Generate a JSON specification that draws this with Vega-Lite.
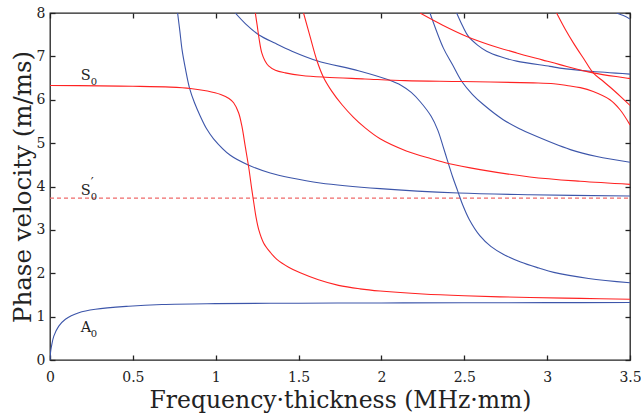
{
  "$schema": "https://vega.github.io/schema/vega-lite/v6.json",
  "width": 580,
  "height": 347,
  "autosize": {"type": "none"},
  "padding": {"left": 50, "top": 13, "right": 11, "bottom": 59},
  "background": "white",
  "config": {
    "view": {"stroke": "#222", "strokeWidth": 1.3},
    "font": "DejaVu Serif",
    "style": {
      "guide-label": {"font": "DejaVu Serif", "fontSize": 14, "fill": "#222"},
      "guide-title": {"font": "DejaVu Serif", "fontSize": 23, "fill": "#222", "fontWeight": "normal"}
    },
    "axis": {
      "grid": false,
      "domain": false,
      "tickColor": "#222",
      "tickWidth": 1.3,
      "tickSize": -5,
      "labelFont": "DejaVu Serif",
      "labelFontSize": 14,
      "labelColor": "#222",
      "labelOverlap": false,
      "labelFlush": false,
      "titleFont": "DejaVu Serif",
      "titleFontWeight": "normal",
      "titleFontSize": 23,
      "titleColor": "#222"
    }
  },
  "datasets": {
    "curves": [
      {"c": "A0", "t": "A", "x": 0, "y": 0},
      {"c": "A0", "t": "A", "x": 0.003, "y": 0.17},
      {"c": "A0", "t": "A", "x": 0.009, "y": 0.32},
      {"c": "A0", "t": "A", "x": 0.023, "y": 0.55},
      {"c": "A0", "t": "A", "x": 0.053, "y": 0.78},
      {"c": "A0", "t": "A", "x": 0.093, "y": 0.94},
      {"c": "A0", "t": "A", "x": 0.174, "y": 1.09},
      {"c": "A0", "t": "A", "x": 0.274, "y": 1.17},
      {"c": "A0", "t": "A", "x": 0.475, "y": 1.24},
      {"c": "A0", "t": "A", "x": 0.676, "y": 1.28},
      {"c": "A0", "t": "A", "x": 1.0, "y": 1.3},
      {"c": "A0", "t": "A", "x": 1.5, "y": 1.31},
      {"c": "A0", "t": "A", "x": 2.0, "y": 1.315},
      {"c": "A0", "t": "A", "x": 2.5, "y": 1.32},
      {"c": "A0", "t": "A", "x": 3.0, "y": 1.322},
      {"c": "A0", "t": "A", "x": 3.5, "y": 1.325},

      {"c": "A1", "t": "A", "x": 0.77, "y": 8},
      {"c": "A1", "t": "A", "x": 0.784, "y": 7.57},
      {"c": "A1", "t": "A", "x": 0.797, "y": 7.15},
      {"c": "A1", "t": "A", "x": 0.818, "y": 6.7},
      {"c": "A1", "t": "A", "x": 0.842, "y": 6.27},
      {"c": "A1", "t": "A", "x": 0.872, "y": 5.93},
      {"c": "A1", "t": "A", "x": 0.907, "y": 5.62},
      {"c": "A1", "t": "A", "x": 0.945, "y": 5.33},
      {"c": "A1", "t": "A", "x": 0.987, "y": 5.1},
      {"c": "A1", "t": "A", "x": 1.088, "y": 4.72},
      {"c": "A1", "t": "A", "x": 1.2, "y": 4.49},
      {"c": "A1", "t": "A", "x": 1.329, "y": 4.31},
      {"c": "A1", "t": "A", "x": 1.45, "y": 4.2},
      {"c": "A1", "t": "A", "x": 1.63, "y": 4.08},
      {"c": "A1", "t": "A", "x": 1.992, "y": 3.95},
      {"c": "A1", "t": "A", "x": 2.464, "y": 3.85},
      {"c": "A1", "t": "A", "x": 2.896, "y": 3.81},
      {"c": "A1", "t": "A", "x": 3.5, "y": 3.78},

      {"c": "A2", "t": "A", "x": 1.118, "y": 8},
      {"c": "A2", "t": "A", "x": 1.18, "y": 7.75},
      {"c": "A2", "t": "A", "x": 1.259, "y": 7.5},
      {"c": "A2", "t": "A", "x": 1.36, "y": 7.3},
      {"c": "A2", "t": "A", "x": 1.46, "y": 7.12},
      {"c": "A2", "t": "A", "x": 1.611, "y": 6.9},
      {"c": "A2", "t": "A", "x": 1.861, "y": 6.67},
      {"c": "A2", "t": "A", "x": 2.042, "y": 6.46},
      {"c": "A2", "t": "A", "x": 2.12, "y": 6.33},
      {"c": "A2", "t": "A", "x": 2.18, "y": 6.17},
      {"c": "A2", "t": "A", "x": 2.233, "y": 5.96},
      {"c": "A2", "t": "A", "x": 2.3, "y": 5.62},
      {"c": "A2", "t": "A", "x": 2.34, "y": 5.3},
      {"c": "A2", "t": "A", "x": 2.37, "y": 4.95},
      {"c": "A2", "t": "A", "x": 2.4, "y": 4.58},
      {"c": "A2", "t": "A", "x": 2.43, "y": 4.22},
      {"c": "A2", "t": "A", "x": 2.46, "y": 3.9},
      {"c": "A2", "t": "A", "x": 2.49, "y": 3.58},
      {"c": "A2", "t": "A", "x": 2.53, "y": 3.24},
      {"c": "A2", "t": "A", "x": 2.595, "y": 2.86},
      {"c": "A2", "t": "A", "x": 2.66, "y": 2.62},
      {"c": "A2", "t": "A", "x": 2.735, "y": 2.44},
      {"c": "A2", "t": "A", "x": 2.84, "y": 2.26},
      {"c": "A2", "t": "A", "x": 2.95, "y": 2.12},
      {"c": "A2", "t": "A", "x": 3.04, "y": 2.02},
      {"c": "A2", "t": "A", "x": 3.25, "y": 1.88},
      {"c": "A2", "t": "A", "x": 3.5, "y": 1.78},

      {"c": "A3", "t": "A", "x": 2.293, "y": 8},
      {"c": "A3", "t": "A", "x": 2.374, "y": 7.19},
      {"c": "A3", "t": "A", "x": 2.43, "y": 6.8},
      {"c": "A3", "t": "A", "x": 2.485, "y": 6.42},
      {"c": "A3", "t": "A", "x": 2.55, "y": 6.12},
      {"c": "A3", "t": "A", "x": 2.615, "y": 5.89},
      {"c": "A3", "t": "A", "x": 2.735, "y": 5.54},
      {"c": "A3", "t": "A", "x": 2.84, "y": 5.32},
      {"c": "A3", "t": "A", "x": 2.896, "y": 5.22},
      {"c": "A3", "t": "A", "x": 3.14, "y": 4.85},
      {"c": "A3", "t": "A", "x": 3.3, "y": 4.69},
      {"c": "A3", "t": "A", "x": 3.5, "y": 4.56},

      {"c": "A4", "t": "A", "x": 2.454, "y": 8},
      {"c": "A4", "t": "A", "x": 2.49, "y": 7.7},
      {"c": "A4", "t": "A", "x": 2.525, "y": 7.46},
      {"c": "A4", "t": "A", "x": 2.58, "y": 7.26},
      {"c": "A4", "t": "A", "x": 2.635, "y": 7.12},
      {"c": "A4", "t": "A", "x": 2.72, "y": 6.99},
      {"c": "A4", "t": "A", "x": 2.816, "y": 6.89},
      {"c": "A4", "t": "A", "x": 3.017, "y": 6.77},
      {"c": "A4", "t": "A", "x": 3.077, "y": 6.73},
      {"c": "A4", "t": "A", "x": 3.278, "y": 6.65},
      {"c": "A4", "t": "A", "x": 3.5, "y": 6.59},

      {"c": "A5", "t": "A", "x": 3.419, "y": 8},
      {"c": "A5", "t": "A", "x": 3.46, "y": 7.94},
      {"c": "A5", "t": "A", "x": 3.5, "y": 7.86},

      {"c": "S0", "t": "S", "x": 0, "y": 6.33},
      {"c": "S0", "t": "S", "x": 0.3, "y": 6.32},
      {"c": "S0", "t": "S", "x": 0.5, "y": 6.31},
      {"c": "S0", "t": "S", "x": 0.726, "y": 6.29},
      {"c": "S0", "t": "S", "x": 0.847, "y": 6.26},
      {"c": "S0", "t": "S", "x": 0.95, "y": 6.2},
      {"c": "S0", "t": "S", "x": 1.03, "y": 6.12},
      {"c": "S0", "t": "S", "x": 1.08, "y": 6.03},
      {"c": "S0", "t": "S", "x": 1.108, "y": 5.93},
      {"c": "S0", "t": "S", "x": 1.138, "y": 5.7},
      {"c": "S0", "t": "S", "x": 1.158, "y": 5.39},
      {"c": "S0", "t": "S", "x": 1.178, "y": 4.93},
      {"c": "S0", "t": "S", "x": 1.2, "y": 4.42},
      {"c": "S0", "t": "S", "x": 1.217, "y": 3.95},
      {"c": "S0", "t": "S", "x": 1.23, "y": 3.62},
      {"c": "S0", "t": "S", "x": 1.243, "y": 3.3},
      {"c": "S0", "t": "S", "x": 1.26, "y": 3.0},
      {"c": "S0", "t": "S", "x": 1.289, "y": 2.7},
      {"c": "S0", "t": "S", "x": 1.33, "y": 2.48},
      {"c": "S0", "t": "S", "x": 1.369, "y": 2.32},
      {"c": "S0", "t": "S", "x": 1.44, "y": 2.14},
      {"c": "S0", "t": "S", "x": 1.51, "y": 2.01},
      {"c": "S0", "t": "S", "x": 1.62, "y": 1.85},
      {"c": "S0", "t": "S", "x": 1.741, "y": 1.72},
      {"c": "S0", "t": "S", "x": 1.87, "y": 1.64},
      {"c": "S0", "t": "S", "x": 1.992, "y": 1.59},
      {"c": "S0", "t": "S", "x": 2.25, "y": 1.52},
      {"c": "S0", "t": "S", "x": 2.5, "y": 1.48},
      {"c": "S0", "t": "S", "x": 2.896, "y": 1.44},
      {"c": "S0", "t": "S", "x": 3.2, "y": 1.42},
      {"c": "S0", "t": "S", "x": 3.5, "y": 1.4},

      {"c": "S1", "t": "S", "x": 1.239, "y": 8},
      {"c": "S1", "t": "S", "x": 1.25, "y": 7.72},
      {"c": "S1", "t": "S", "x": 1.262, "y": 7.4},
      {"c": "S1", "t": "S", "x": 1.278, "y": 7.08},
      {"c": "S1", "t": "S", "x": 1.297, "y": 6.9},
      {"c": "S1", "t": "S", "x": 1.319, "y": 6.78},
      {"c": "S1", "t": "S", "x": 1.36, "y": 6.68},
      {"c": "S1", "t": "S", "x": 1.42, "y": 6.62},
      {"c": "S1", "t": "S", "x": 1.52, "y": 6.56},
      {"c": "S1", "t": "S", "x": 1.661, "y": 6.52},
      {"c": "S1", "t": "S", "x": 1.9, "y": 6.48},
      {"c": "S1", "t": "S", "x": 2.143, "y": 6.44},
      {"c": "S1", "t": "S", "x": 2.485, "y": 6.42},
      {"c": "S1", "t": "S", "x": 2.916, "y": 6.39},
      {"c": "S1", "t": "S", "x": 3.04, "y": 6.37},
      {"c": "S1", "t": "S", "x": 3.118, "y": 6.33},
      {"c": "S1", "t": "S", "x": 3.2, "y": 6.28},
      {"c": "S1", "t": "S", "x": 3.278, "y": 6.19},
      {"c": "S1", "t": "S", "x": 3.379, "y": 6.0},
      {"c": "S1", "t": "S", "x": 3.44, "y": 5.77},
      {"c": "S1", "t": "S", "x": 3.5, "y": 5.42},

      {"c": "S2", "t": "S", "x": 1.53, "y": 8},
      {"c": "S2", "t": "S", "x": 1.57, "y": 7.45},
      {"c": "S2", "t": "S", "x": 1.611, "y": 6.9},
      {"c": "S2", "t": "S", "x": 1.65, "y": 6.52},
      {"c": "S2", "t": "S", "x": 1.7, "y": 6.2},
      {"c": "S2", "t": "S", "x": 1.761, "y": 5.89},
      {"c": "S2", "t": "S", "x": 1.83, "y": 5.6},
      {"c": "S2", "t": "S", "x": 1.902, "y": 5.35},
      {"c": "S2", "t": "S", "x": 1.992, "y": 5.1},
      {"c": "S2", "t": "S", "x": 2.15, "y": 4.82},
      {"c": "S2", "t": "S", "x": 2.3, "y": 4.64},
      {"c": "S2", "t": "S", "x": 2.404, "y": 4.53},
      {"c": "S2", "t": "S", "x": 2.595, "y": 4.39},
      {"c": "S2", "t": "S", "x": 2.896, "y": 4.22},
      {"c": "S2", "t": "S", "x": 3.2, "y": 4.12},
      {"c": "S2", "t": "S", "x": 3.5, "y": 4.05},

      {"c": "S3", "t": "S", "x": 2.233, "y": 8},
      {"c": "S3", "t": "S", "x": 2.37, "y": 7.72},
      {"c": "S3", "t": "S", "x": 2.515, "y": 7.46},
      {"c": "S3", "t": "S", "x": 2.65, "y": 7.27},
      {"c": "S3", "t": "S", "x": 2.816, "y": 7.08},
      {"c": "S3", "t": "S", "x": 2.97, "y": 6.92},
      {"c": "S3", "t": "S", "x": 3.077, "y": 6.81},
      {"c": "S3", "t": "S", "x": 3.278, "y": 6.62},
      {"c": "S3", "t": "S", "x": 3.5, "y": 6.49},

      {"c": "S4", "t": "S", "x": 3.057, "y": 8},
      {"c": "S4", "t": "S", "x": 3.11, "y": 7.62},
      {"c": "S4", "t": "S", "x": 3.16, "y": 7.3},
      {"c": "S4", "t": "S", "x": 3.22, "y": 6.95},
      {"c": "S4", "t": "S", "x": 3.278, "y": 6.62},
      {"c": "S4", "t": "S", "x": 3.34, "y": 6.42},
      {"c": "S4", "t": "S", "x": 3.398, "y": 6.23},
      {"c": "S4", "t": "S", "x": 3.45, "y": 6.05},
      {"c": "S4", "t": "S", "x": 3.5, "y": 5.87}
    ],
    "dashed": [
      {"x": 0, "y": 3.73},
      {"x": 3.5, "y": 3.73}
    ],
    "labels": [
      {"x": 0.185, "y": 6.46, "main": "S", "sub": "0", "sup": ""},
      {"x": 0.185, "y": 3.81, "main": "S", "sub": "0", "sup": "′"},
      {"x": 0.185, "y": 0.64, "main": "A", "sub": "0", "sup": ""}
    ]
  },
  "layer": [
    {
      "data": {"name": "dashed"},
      "mark": {"type": "line", "color": "#f06a6a", "strokeWidth": 1.2, "strokeDash": [4, 3]},
      "encoding": {
        "x": {"field": "x", "type": "quantitative", "scale": {"domain": [0, 3.5], "nice": false},
          "axis": {"orient": "bottom", "values": [0, 0.5, 1, 1.5, 2, 2.5, 3, 3.5], "labelExpr": "'' + datum.value", "labelPadding": 15, "labelFont": "DejaVu Serif", "labelFontSize": 14, "title": "Frequency·thickness (MHz·mm)", "titleFont": "DejaVu Serif", "titleFontSize": 23.5, "titleFontWeight": "normal", "titlePadding": 4}},
        "y": {"field": "y", "type": "quantitative", "scale": {"domain": [0, 8], "nice": false},
          "axis": {"orient": "left", "values": [0, 1, 2, 3, 4, 5, 6, 7, 8], "labelExpr": "'' + datum.value", "labelPadding": 10, "labelFont": "DejaVu Serif", "labelFontSize": 14, "title": "Phase velocity (m/ms)", "titleFont": "DejaVu Serif", "titleFontSize": 24.5, "titleFontWeight": "normal", "titlePadding": 1}}
      }
    },
    {
      "data": {"name": "curves"},
      "mark": {"type": "line", "interpolate": "catmull-rom", "strokeWidth": 1.1, "clip": true},
      "encoding": {
        "x": {"field": "x", "type": "quantitative", "axis": {"orient": "top", "values": [0, 0.5, 1, 1.5, 2, 2.5, 3, 3.5], "labels": false, "title": null}},
        "y": {"field": "y", "type": "quantitative", "axis": {"orient": "right", "values": [0, 1, 2, 3, 4, 5, 6, 7, 8], "labels": false, "title": null}},
        "detail": {"field": "c", "type": "nominal"},
        "color": {"field": "t", "type": "nominal", "scale": {"domain": ["A", "S"], "range": ["#3d56aa", "#ff2222"]}, "legend": null}
      }
    },
    {
      "data": {"name": "labels"},
      "mark": {"type": "text", "align": "left", "baseline": "alphabetic", "font": "DejaVu Serif", "fontSize": 14.5, "color": "#222"},
      "encoding": {
        "x": {"field": "x", "type": "quantitative", "axis": null},
        "y": {"field": "y", "type": "quantitative", "axis": null},
        "text": {"field": "main", "type": "nominal"}
      }
    },
    {
      "data": {"name": "labels"},
      "mark": {"type": "text", "align": "left", "baseline": "alphabetic", "font": "DejaVu Serif", "fontSize": 10, "color": "#222", "dx": 10, "dy": 5},
      "encoding": {
        "x": {"field": "x", "type": "quantitative", "axis": null},
        "y": {"field": "y", "type": "quantitative", "axis": null},
        "text": {"field": "sub", "type": "nominal"}
      }
    },
    {
      "data": {"name": "labels"},
      "mark": {"type": "text", "align": "left", "baseline": "alphabetic", "font": "DejaVu Serif", "fontSize": 13, "color": "#222", "dx": 10, "dy": -8},
      "encoding": {
        "x": {"field": "x", "type": "quantitative", "axis": null},
        "y": {"field": "y", "type": "quantitative", "axis": null},
        "text": {"field": "sup", "type": "nominal"}
      }
    }
  ],
  "resolve": {"axis": {"x": "independent", "y": "independent"}}
}
